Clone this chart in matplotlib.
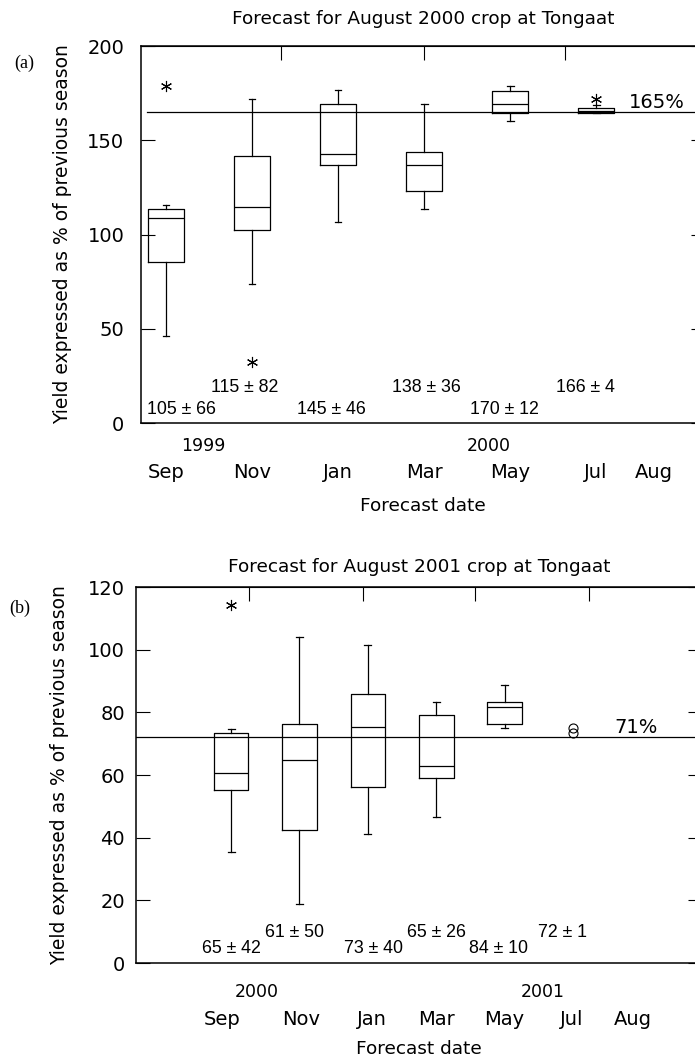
import numpy as np
import matplotlib.pyplot as plt

plt.rcParams['font.family'] = ['DejaVu Sans']

# Meses de pronostico (eje x, en meses desde septiembre)
meses = ['Sep', 'Nov', 'Jan', 'Mar', 'May', 'Jul', 'Aug']

# Panel (a): cosecha agosto 2000
a_pos = [0, 2, 4, 6, 8, 10]
a_whislo = [46, 74, 106.5, 113.6, 160, 164.7]
a_q1 = [85.5, 102.3, 137, 123, 164.7, 164.7]
a_med = [109, 114.8, 142.7, 136.7, 169.4, 165.5]
a_q3 = [113.6, 141.9, 169.4, 143.8, 176.3, 167.3]
a_whishi = [115.7, 171.9, 176.5, 169.4, 179, 168.5]
a_star_x = [0, 2, 10]
a_star_y = [178.6, 32.5, 171.7]
a_textos = ['105 ± 66', '115 ± 82', '145 ± 46', '138 ± 36', '170 ± 12', '166 ± 4']
a_ref = 165
a_years = ['1999', '2000']

# Panel (b): cosecha agosto 2001
b_pos = [0, 2, 4, 6, 8]
b_whislo = [35.4, 18.7, 41.1, 46.6, 74.9]
b_q1 = [55.1, 42.5, 56.2, 59.1, 76.3]
b_med = [60.8, 64.8, 75.4, 63, 81.6]
b_q3 = [73.5, 76.3, 86, 79.1, 83.3]
b_whishi = [74.7, 104.2, 101.5, 83.3, 88.7]
b_star_x = [0]
b_star_y = [114.2]
b_circ_x = [10, 10]
b_circ_y = [75.0, 73.3]
b_textos = ['65 ± 42', '61 ± 50', '73 ± 40', '65 ± 26', '84 ± 10', '72 ± 1']
b_ref = 72
b_years = ['2000', '2001']

fs = 14          # ticks
fs_tit = 13.3    # titulos y etiquetas de ejes
fs_num = 12.8    # textos de media +- desviacion (fuente mas estrecha)


def panel(ax, pos, lo, q1, med, q3, hi, width, capw, ypad):
    stats = []
    for i in range(len(pos)):
        stats.append(dict(med=med[i], q1=q1[i], q3=q3[i], whislo=lo[i],
                          whishi=hi[i], fliers=[]))
    ax.bxp(stats, positions=pos, widths=width, capwidths=capw,
           showfliers=False, manage_ticks=False,
           boxprops=dict(color='black', lw=0.9),
           medianprops=dict(color='black', lw=0.9),
           whiskerprops=dict(color='black', lw=0.9),
           capprops=dict(color='black', lw=0.9))
    for s in ax.spines.values():
        s.set_linewidth(1.1)
    ax.tick_params(axis='y', direction='in', length=10, right=True,
                   labelsize=fs, pad=ypad)
    ax.tick_params(axis='x', length=0, labelsize=fs)


fig = plt.figure(figsize=(6.95, 10.64), dpi=100)

# ---------------- (a) ----------------
ax1 = fig.add_axes([0.2029, 0.6024, 0.8115, 0.3543])
panel(ax1, a_pos, a_whislo, a_q1, a_med, a_q3, a_whishi, 0.83, 0.16, 12)
ax1.plot(a_star_x, a_star_y, ls='none', marker=(6, 2, 0), ms=8,
         mec='black', mew=0.8)
ax1.axhline(a_ref, xmin=0.01, color='black', lw=0.9)
ax1.text(11.42, a_ref + 5, '%d%%' % a_ref, ha='center', va='center', fontsize=14)
a_tx = [0.37, 1.84, 3.84, 6.05, 7.86, 9.74]
a_ty = [7.4, 19.1, 7.4, 19.1, 7.4, 19.1]
for x, y, t in zip(a_tx, a_ty, a_textos):
    ax1.text(x, y, t, ha='center', va='center', fontsize=fs_num,
             family='Liberation Sans')
ax1.set_xlim(-0.58, 12.53)
ax1.set_ylim(0, 200)
ax1.set_yticks([0, 50, 100, 150, 200])
ax1.set_xticks([0, 2, 4, 6, 8, 10, 11.35])
ax1.set_xticklabels(meses)
ax1.tick_params(axis='x', pad=28.5)
top1 = ax1.secondary_xaxis('top')
top1.set_xticks([2.67, 6.0, 9.27])
top1.tick_params(direction='in', length=10, labeltop=False)
for x, t in zip([0.86, 7.51], a_years):
    ax1.text(x, -0.061, t, ha='center', va='center', fontsize=12.5,
             transform=ax1.get_xaxis_transform())
ax1.set_title('Forecast for August 2000 crop at Tongaat', fontsize=fs_tit, pad=16)
ax1.set_xlabel('Forecast date', fontsize=fs_tit)
ax1.xaxis.set_label_coords(0.5, -0.196)
ax1.set_ylabel('Yield expressed as % of previous season', fontsize=13.5)
ax1.yaxis.set_label_coords(-0.123, 0.5)
fig.text(24 / 695, 1 - 63 / 1064, '(a)', family='Liberation Serif',
         fontsize=13, ha='center', va='center')

# ---------------- (b) ----------------
ax2 = fig.add_axes([0.1957, 0.0949, 0.8144, 0.3534])
panel(ax2, b_pos, b_whislo, b_q1, b_med, b_q3, b_whishi, 1.01, 0.2, 8)
ax2.plot(b_star_x, b_star_y, ls='none', marker=(6, 2, 0), ms=8,
         mec='black', mew=0.8)
ax2.plot(b_circ_x, b_circ_y, ls='none', marker='o', ms=6.5,
         mfc='none', mec='black', mew=0.8)
ax2.axhline(b_ref, color='black', lw=0.9)
ax2.text(11.84, b_ref + 3.2, '71%', ha='center', va='center', fontsize=14)
b_tx = [0, 1.84, 4.15, 6.0, 7.81, 9.68]
b_ty = [4.7, 9.7, 4.7, 9.7, 4.7, 9.7]
for x, y, t in zip(b_tx, b_ty, b_textos):
    ax2.text(x, y, t, ha='center', va='center', fontsize=fs_num,
             family='Liberation Sans')
ax2.set_xlim(-2.78, 13.77)
ax2.set_ylim(0, 120)
ax2.set_yticks([0, 20, 40, 60, 80, 100, 120])
ax2.set_xticks([-0.26, 2.05, 4.12, 6.02, 7.98, 9.97, 11.75])
ax2.set_xticklabels(meses)
ax2.tick_params(axis='x', pad=33.5)
top2 = ax2.secondary_xaxis('top')
top2.set_xticks([0.53, 3.86, 7.13, 10.47])
top2.tick_params(direction='in', length=10, labeltop=False)
for x, t in zip([0.76, 9.12], b_years):
    ax2.text(x, -0.077, t, ha='center', va='center', fontsize=12.5,
             transform=ax2.get_xaxis_transform())
ax2.set_title('Forecast for August 2001 crop at Tongaat', fontsize=fs_tit, pad=11)
ax2.set_xlabel('Forecast date', fontsize=fs_tit)
ax2.xaxis.set_label_coords(0.5, -0.205)
ax2.set_ylabel('Yield expressed as % of previous season', fontsize=13.5)
ax2.yaxis.set_label_coords(-0.118, 0.5)
fig.text(20 / 695, 1 - 608 / 1064, '(b)', family='Liberation Serif',
         fontsize=13, ha='center', va='center')

fig.savefig('out.png', dpi=100)
